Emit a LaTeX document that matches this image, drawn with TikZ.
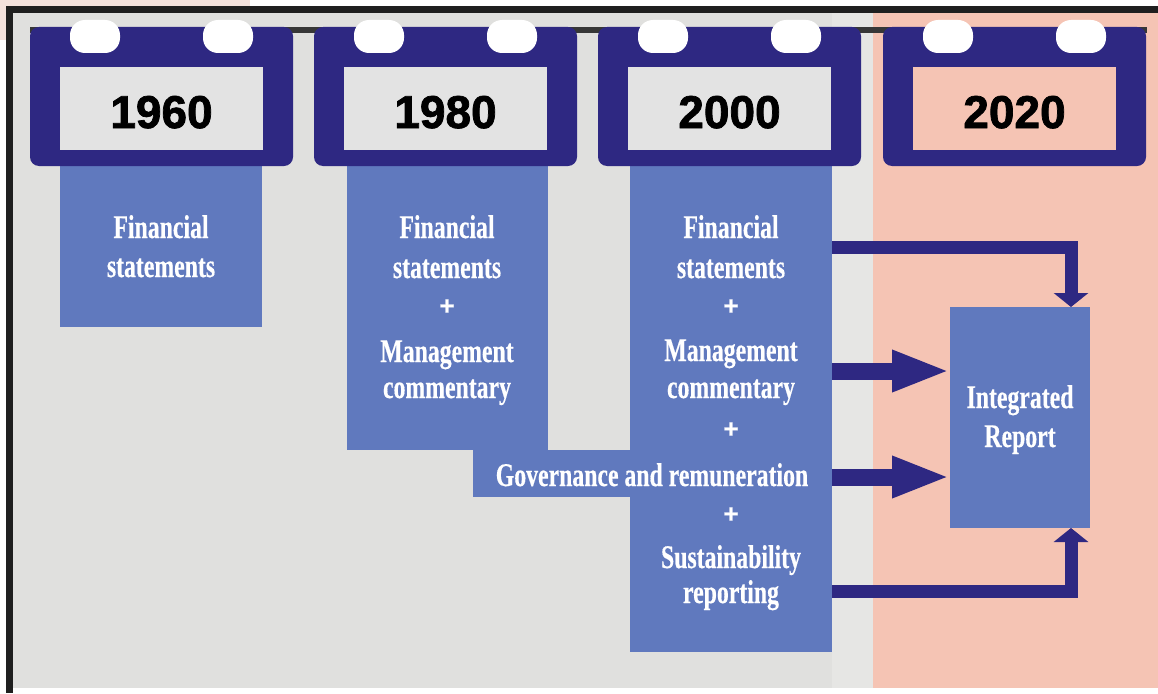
\documentclass[tikz,border=0pt]{standalone}
\usepackage{fontspec}
\usetikzlibrary{arrows.meta}
\newfontfamily\condserif[FakeStretch=0.72,FakeBold=0.4]{Liberation Serif}
\newfontfamily\yearsans[FakeBold=1.6]{Liberation Sans}
\newfontfamily\plussans[FakeBold=0.6]{Liberation Sans}
\definecolor{navy}{RGB}{46,40,130}
\definecolor{boxblue}{RGB}{96,121,190}
\definecolor{bggray}{RGB}{224,224,222}
\definecolor{bglight}{RGB}{230,230,228}
\definecolor{pinkbg}{RGB}{245,196,180}
\definecolor{calgray}{RGB}{227,227,227}
\definecolor{bardark}{RGB}{55,55,55}
\definecolor{blush}{RGB}{243,225,220}
\begin{document}
\begin{tikzpicture}[x=1pt,y=-1pt,
  bluebox/.style={fill=boxblue, inner sep=0, outer sep=0, anchor=north west},
  cal/.style={fill=navy, rounded corners=9pt, minimum width=263pt, minimum height=139pt, inner sep=0, outer sep=0, anchor=north west},
  calin/.style={minimum width=203pt, minimum height=83pt, inner sep=0, outer sep=0, anchor=north west},
  ring/.style={fill=white, rounded corners=15pt, minimum width=50pt, minimum height=33pt, inner sep=0, outer sep=0},
  year/.style={font=\yearsans\bfseries\fontsize{46}{50}\selectfont, text=black, anchor=base, inner sep=0},
  lbl/.style={text=white, font=\condserif\bfseries\fontsize{33}{38}\selectfont, anchor=base, inner sep=0},
  plus/.style={text=white, font=\plussans\bfseries\fontsize{26}{30}\selectfont, anchor=center, inner sep=0},
  arrthin/.style={draw=navy, line width=13pt, -{Triangle[width=34pt,length=14pt]}},
  arrthick/.style={draw=navy, line width=17pt, -{Triangle[width=38pt,length=58pt]}}
]
\useasboundingbox (0,0) rectangle (1158,693);
% page background and frame
\fill[white] (0,0) rectangle (1158,693);
\fill[blush] (0,0) rectangle (250,6);
\fill[blush] (0,0) rectangle (6,40);
\fill[bggray] (13,13) rectangle (873,688);
\fill[bglight] (832,13) rectangle (873,688);
\fill[pinkbg] (873,13) rectangle (1158,688);
\fill[black!88] (6,6) rectangle (1158,13);
\fill[black!88] (6,6) rectangle (13,693);
% bar joining the calendars
\fill[bardark] (30,27) rectangle (1147,33);
% blue content boxes
\node[bluebox, minimum width=202pt, minimum height=161pt] (b1) at (60,166) {};
\node[bluebox, minimum width=201pt, minimum height=284pt] (b2) at (347,166) {};
\node[bluebox, minimum width=359pt, minimum height=47pt] (gov) at (473,450) {};
\node[bluebox, minimum width=202pt, minimum height=486pt] (b3) at (630,166) {};
\node[bluebox, minimum width=140pt, minimum height=221pt] (ir) at (950,307) {};
% calendars
\foreach \x/\n/\yr/\c in {30/1/1960/calgray, 314/2/1980/calgray, 598/3/2000/calgray, 883/4/2020/pinkbg}{
  \node[cal] (cal\n) at (\x,27) {};
  \node[calin, fill=\c] (in\n) at (\x+30,67) {};
  \node[ring] (ra\n) at (\x+65,36.5) {};
  \node[ring] (rb\n) at (\x+198,36.5) {};
  \node[year] (yr\n) at (\x+131.5,128) {\yr};
}
% arrows
\coordinate (y1) at (0,247);
\coordinate (y2) at (0,371);
\coordinate (y3) at (0,477);
\coordinate (y4) at (0,591);
\draw[arrthin] (b3.east |- y1) -| ([xshift=-19pt]ir.north east);
\draw[arrthick] (b3.east |- y2) -- (ir.west |- y2);
\draw[arrthick] (b3.east |- y3) -- (ir.west |- y3);
\draw[arrthin] (b3.east |- y4) -| ([xshift=-19pt]ir.south east);
% texts 1960
\node[lbl] (t1a) at (161,238) {Financial};
\node[lbl] (t1b) at (161,277) {statements};
% texts 1980
\node[lbl] (t2a) at (447,238) {Financial};
\node[lbl] (t2b) at (447,278) {statements};
\node[plus] (t2p) at (447,307) {+};
\node[lbl] (t2c) at (447,362) {Management};
\node[lbl] (t2d) at (447,398) {commentary};
% texts 2000
\node[lbl] (t3a) at (731,238) {Financial};
\node[lbl] (t3b) at (731,278) {statements};
\node[plus] (t3p) at (731,307) {+};
\node[lbl] (t3c) at (731,361) {Management};
\node[lbl] (t3d) at (731,398) {commentary};
\node[plus] (t3q) at (731,430) {+};
\node[lbl] (t3e) at (652,486) {Governance and remuneration};
\node[plus] (t3r) at (731,515) {+};
\node[lbl] (t3f) at (731,568) {Sustainability};
\node[lbl] (t3g) at (731,603) {reporting};
% integrated report
\node[lbl] (t4a) at (1020,408) {Integrated};
\node[lbl] (t4b) at (1020,447) {Report};
\end{tikzpicture}
\end{document}
